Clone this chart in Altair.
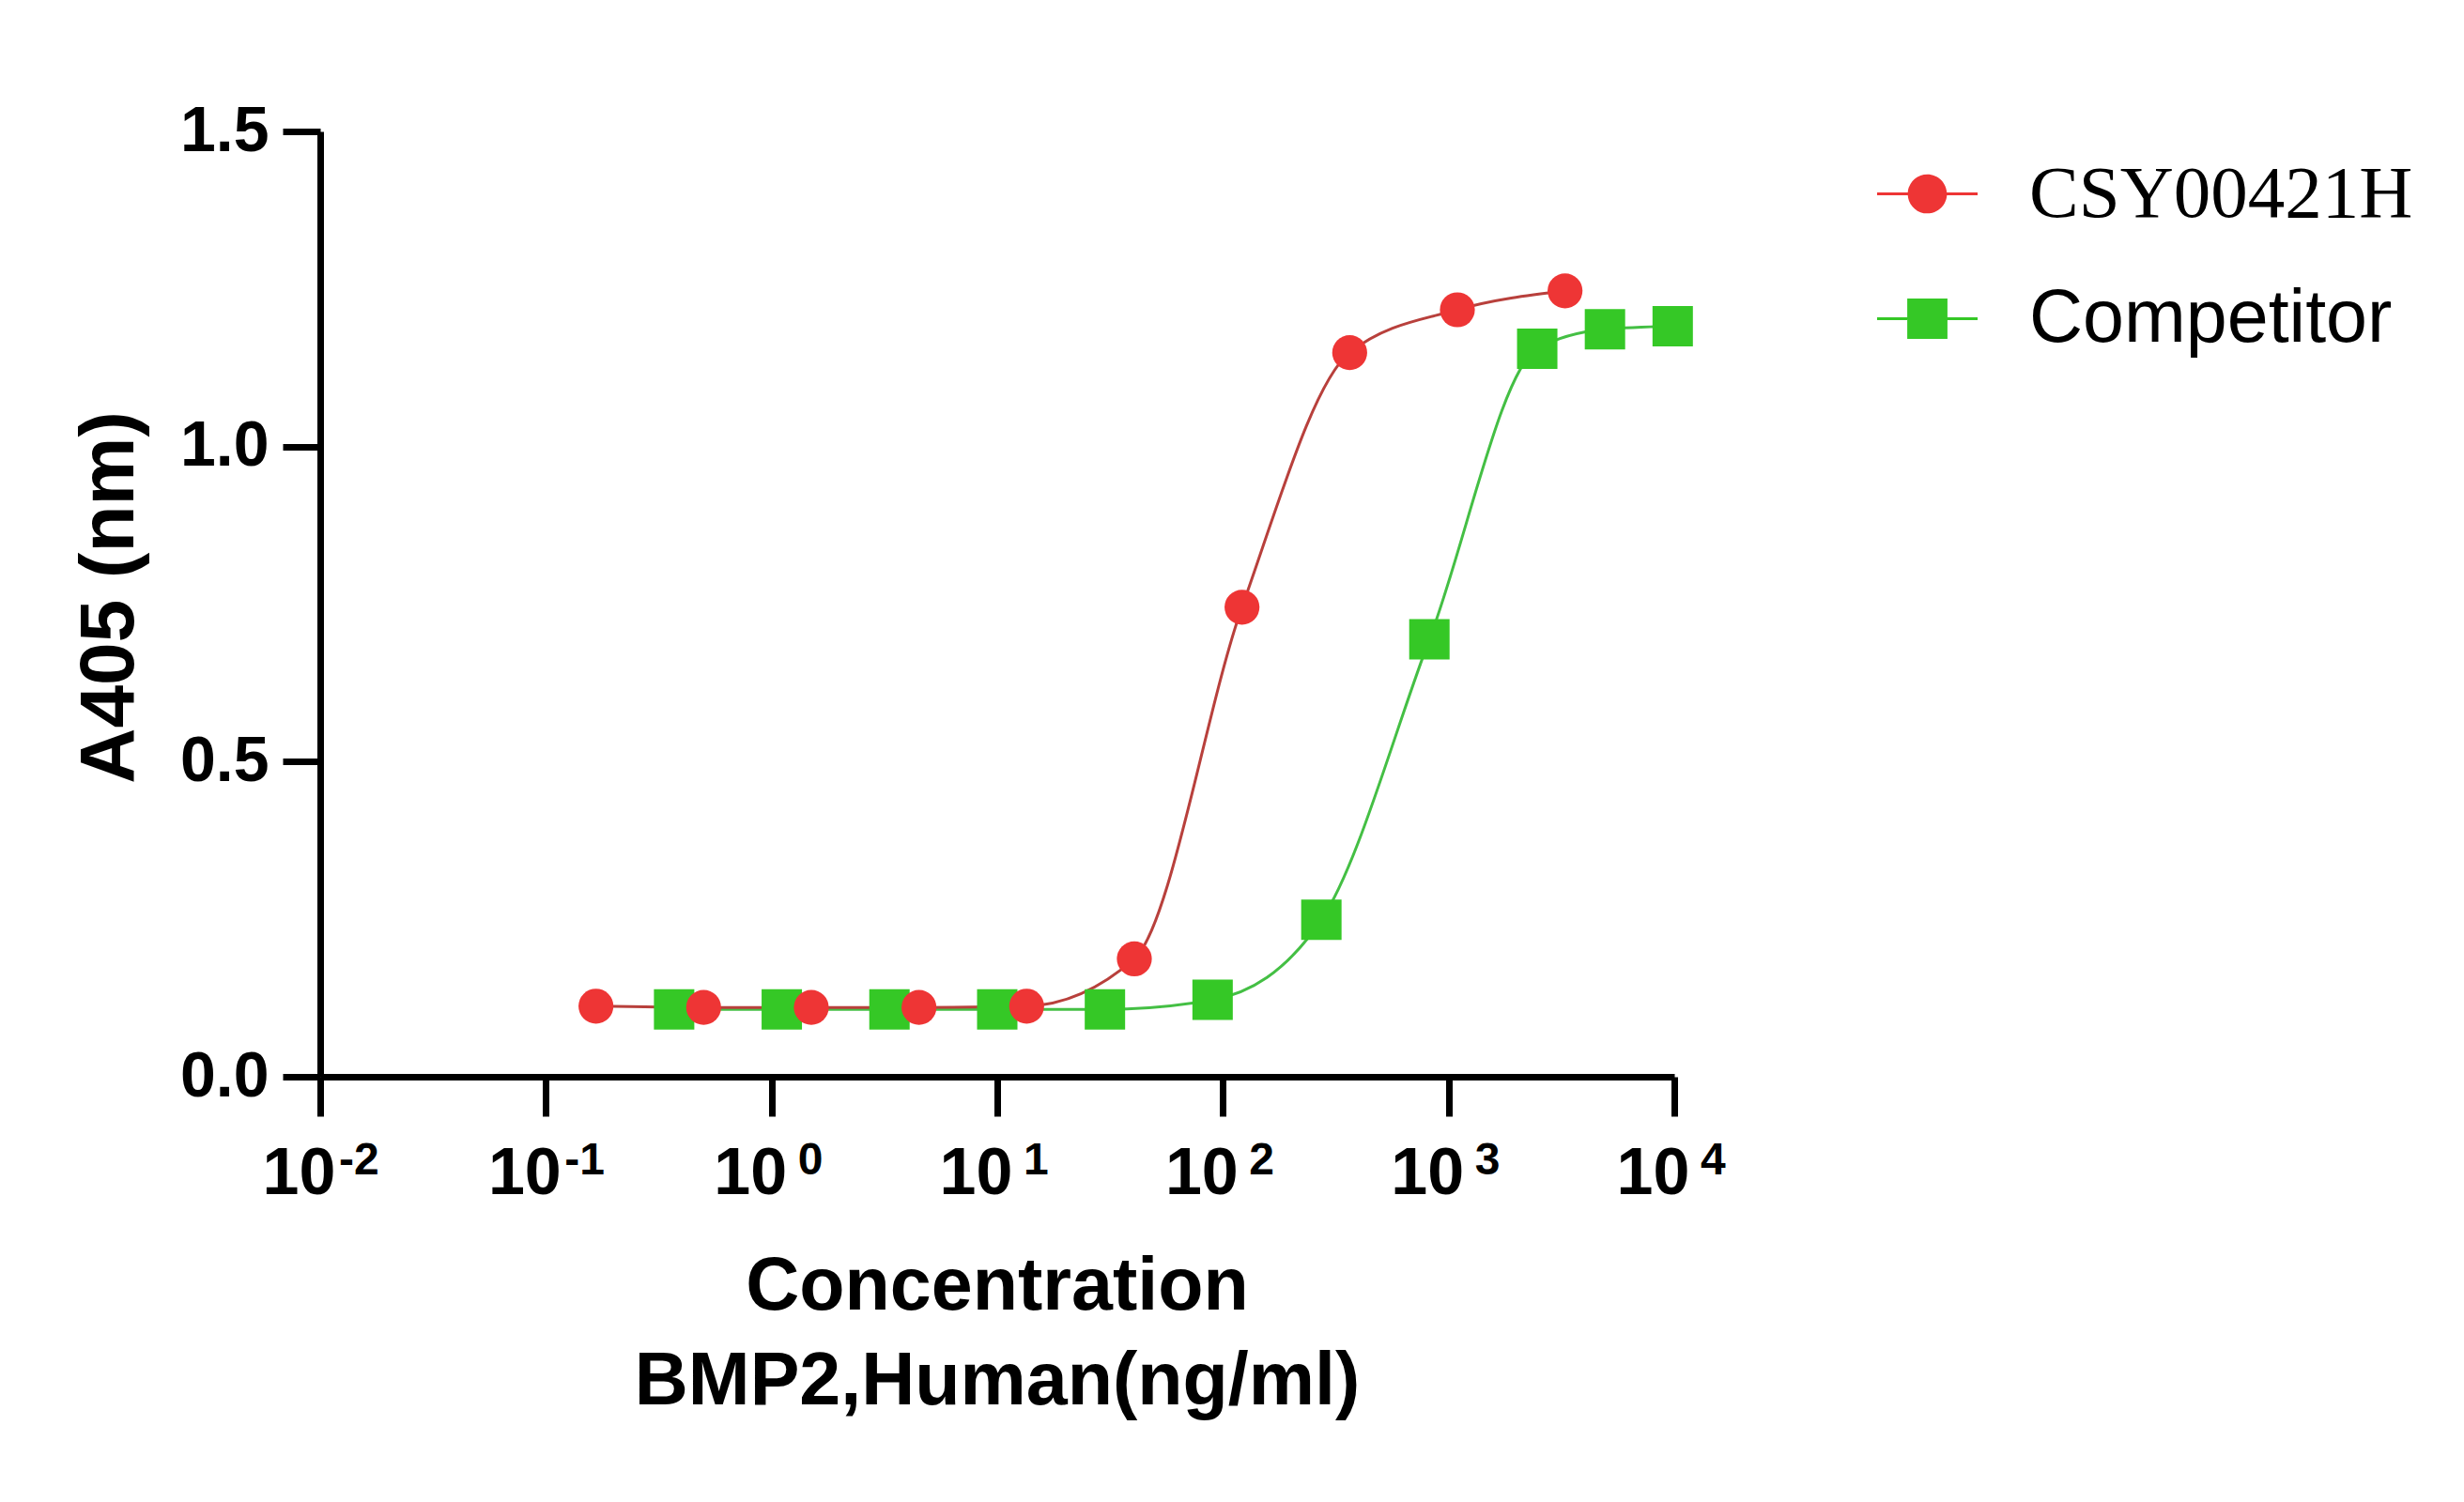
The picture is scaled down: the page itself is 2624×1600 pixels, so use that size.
import altair as alt
import pandas as pd

# ---- data ----
series_names = ["CSY00421H", "Competitor"]
red_conc = [0.1667, 0.5, 1.5, 4.5, 13.5, 40.5, 121.5, 364.5, 1093.5, 3280.5]
red_a405 = [0.112, 0.110, 0.110, 0.110, 0.112, 0.187, 0.745, 1.149, 1.217, 1.247]
green_conc = [0.37, 1.11, 3.33, 10.0, 30.0, 90.0, 273.0, 822.0, 2470.0, 4930.0, 9840.0]
green_a405 = [0.107, 0.107, 0.107, 0.107, 0.107, 0.122, 0.249, 0.694, 1.155, 1.186, 1.191]
x_tick_values = [0.01, 0.1, 1, 10, 100, 1000, 10000]
x_tick_base = "10"
x_tick_exponents = ["-2", "-1", "0", "1", "2", "3", "4"]
y_tick_values = [0.0, 0.5, 1.0, 1.5]

red_df = pd.DataFrame({"conc": red_conc, "a405": red_a405, "series": series_names[0]})
green_df = pd.DataFrame({"conc": green_conc, "a405": green_a405, "series": series_names[1]})
exp_df = pd.DataFrame({"conc": x_tick_values, "exp": x_tick_exponents})

SANS = "Liberation Sans"
SERIF = "Liberation Serif"
RED_FILL = "#ee3535"
RED_LINE = "#b8403c"
GREEN_FILL = "#35c826"
GREEN_LINE = "#44bf44"

circle_path = ("M-1,-0.028H-0.38V0.028H-1Z M0.38,-0.028H1V0.028H0.38Z "
               "M-0.39,0A0.39,0.39 0 1,1 0.39,0A0.39,0.39 0 1,1 -0.39,0Z")
square_path = ("M-1,-0.028H-0.4V0.028H-1Z M0.4,-0.028H1V0.028H0.4Z "
               "M-0.4,-0.4H0.4V0.4H-0.4Z")

x_scale = alt.Scale(type="log", domain=[0.01, 10000])
x_enc = alt.X("conc:Q", scale=x_scale,
              axis=alt.Axis(values=x_tick_values, labelExpr=f"'{x_tick_base}'",
                            labelOffset=-23, labelFlush=False, labelOverlap=False,
                            title=None))
y_enc = alt.Y("a405:Q",
              scale=alt.Scale(domain=[0, 1.5]),
              axis=alt.Axis(values=y_tick_values, format=".1f", title="A405 (nm)",
                            titleAngle=270, titleX=-200, titleY=496,
                            titleBaseline="alphabetic", labelFlush=False,
                            labelOverlap=False))

green_line = alt.Chart(green_df).mark_line(
    color=GREEN_LINE, strokeWidth=3, interpolate="monotone"
).encode(x=x_enc, y=y_enc)

red_line = alt.Chart(red_df).mark_line(
    color=RED_LINE, strokeWidth=3, interpolate="monotone"
).encode(x=x_enc, y=y_enc)

green_pts = alt.Chart(green_df).mark_point(
    shape="square", filled=True, size=1849, opacity=1, strokeWidth=0
).encode(
    x=x_enc, y=y_enc,
    color=alt.Color("series:N",
                    scale=alt.Scale(domain=[series_names[1]], range=[GREEN_FILL]),
                    legend=alt.Legend(title=None, orient="none", legendX=1658, legendY=146,
                                      symbolType=square_path, symbolSize=11449,
                                      symbolStrokeWidth=0, symbolOpacity=1,
                                      labelFont=SANS, labelFontSize=79, labelColor="black",
                                      labelOffset=55, labelLimit=1000, padding=0)),
)

red_pts = alt.Chart(red_df).mark_point(
    shape="circle", filled=True, size=1385, opacity=1, strokeWidth=0
).encode(
    x=x_enc, y=y_enc,
    color=alt.Color("series:N",
                    scale=alt.Scale(domain=[series_names[0]], range=[RED_FILL]),
                    legend=alt.Legend(title=None, orient="none", legendX=1658, legendY=13,
                                      symbolType=circle_path, symbolSize=11449,
                                      symbolStrokeWidth=0, symbolOpacity=1,
                                      labelFont=SERIF, labelFontSize=79, labelColor="black",
                                      labelOffset=55, labelLimit=1000, padding=0)),
)

# superscript exponents of the x tick labels
exp_neg = alt.Chart(exp_df).transform_filter("datum.conc < 1").mark_text(
    font=SANS, fontSize=48, fontWeight="bold", color="black",
    align="left", baseline="alphabetic", dx=20
).encode(x=alt.X("conc:Q", scale=x_scale), y=alt.value(1111), text="exp:N")

exp_pos = alt.Chart(exp_df).transform_filter("datum.conc >= 1").mark_text(
    font=SANS, fontSize=48, fontWeight="bold", color="black",
    align="left", baseline="alphabetic", dx=28
).encode(x=alt.X("conc:Q", scale=x_scale), y=alt.value(1111), text="exp:N")

chart = alt.layer(green_line, red_line, green_pts, red_pts, exp_neg, exp_pos).resolve_scale(
    color="independent"
).properties(
    width=1442,
    height=1007,
    autosize=alt.AutoSizeParams(type="none"),
    padding={"left": 333, "top": 132, "right": 820, "bottom": 430},
    background="white",
    title=alt.TitleParams(
        text="Concentration",
        subtitle="BMP2,Human(ng/ml)",
        orient="bottom", anchor="middle", frame="group",
        font=SANS, fontSize=79, fontWeight="bold", color="black",
        subtitleFont=SANS, subtitleFontSize=79, subtitleFontWeight="bold",
        subtitleColor="black", subtitlePadding=22, offset=48,
    ),
).configure_view(stroke=None).configure_axis(
    grid=False,
    domainColor="black", domainWidth=7,
    tickColor="black", tickWidth=7,
    labelFont=SANS, labelFontWeight="bold", labelColor="black",
    titleFont=SANS, titleFontWeight="bold", titleColor="black", titleFontSize=82,
).configure_axisX(
    labelFontSize=70, labelPadding=27, tickSize=42,
).configure_axisY(
    labelFontSize=68, labelPadding=15, tickSize=40,
)

chart.save("out.html", embed_options={"renderer": "svg", "actions": False})
